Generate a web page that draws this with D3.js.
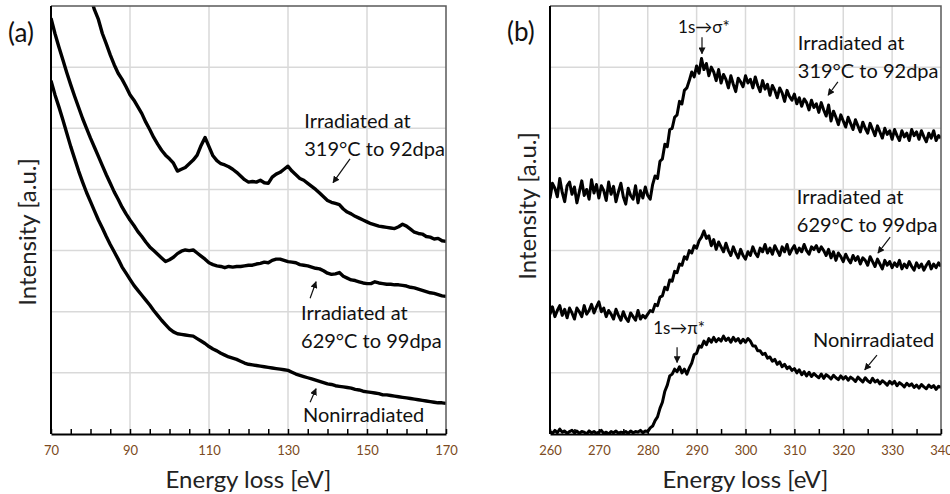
<!DOCTYPE html>
<html>
<head>
<meta charset="utf-8">
<script src="https://cdn.jsdelivr.net/npm/d3@7"></script>
<style>
  body { margin: 0; background: #fff; }
  svg { display: block; font-family: Lato, "Open Sans", sans-serif; }
</style>
</head>
<body>
<svg id="chart" width="950" height="494"></svg>
<script>
// ---- panel (a): 70-170 eV, 1 eV step ----
const aStart = 70, aStep = 1;
const a319 = [9.40,9.18,8.96,8.74,8.52,8.31,8.10,7.89,7.68,7.48,
  7.14,6.94,6.78,6.55,6.38,6.20,6.04,5.90,5.80,5.68,
  5.55,5.46,5.35,5.24,5.10,4.98,4.85,4.74,4.64,4.56,
  4.50,4.43,4.30,4.33,4.36,4.42,4.48,4.56,4.72,4.85,
  4.70,4.55,4.47,4.42,4.40,4.37,4.33,4.28,4.22,4.16,
  4.12,4.13,4.12,4.15,4.11,4.10,4.20,4.25,4.28,4.33,
  4.38,4.30,4.24,4.18,4.15,4.10,4.05,4.00,3.94,3.88,
  3.82,3.79,3.77,3.75,3.68,3.63,3.60,3.56,3.53,3.50,
  3.47,3.44,3.42,3.40,3.39,3.38,3.37,3.36,3.39,3.43,
  3.40,3.35,3.30,3.28,3.27,3.23,3.22,3.19,3.20,3.16,3.15];
const a629 = [6.80,6.55,6.33,6.12,5.91,5.71,5.52,5.34,5.16,5.00,
  4.84,4.69,4.54,4.39,4.24,4.10,3.96,3.84,3.71,3.60,
  3.50,3.41,3.31,3.23,3.14,3.06,3.00,2.94,2.88,2.82,
  2.85,2.89,2.95,2.99,3.01,3.00,3.01,2.96,2.91,2.86,
  2.80,2.77,2.75,2.74,2.72,2.74,2.73,2.74,2.74,2.75,
  2.76,2.76,2.78,2.79,2.81,2.80,2.84,2.86,2.86,2.84,
  2.82,2.81,2.80,2.77,2.76,2.75,2.73,2.71,2.70,2.67,
  2.63,2.61,2.62,2.64,2.58,2.55,2.52,2.51,2.49,2.47,
  2.46,2.46,2.49,2.47,2.46,2.45,2.45,2.44,2.44,2.43,
  2.42,2.40,2.39,2.37,2.35,2.33,2.31,2.30,2.28,2.26,2.25];
const aNon = [5.78,5.55,5.35,5.14,4.92,4.70,4.50,4.30,4.12,3.95,
  3.80,3.65,3.50,3.37,3.23,3.10,2.98,2.86,2.73,2.63,
  2.53,2.43,2.35,2.27,2.19,2.11,2.02,1.94,1.86,1.79,
  1.72,1.67,1.64,1.63,1.62,1.61,1.60,1.56,1.52,1.48,
  1.43,1.39,1.36,1.32,1.29,1.26,1.24,1.22,1.19,1.16,
  1.14,1.13,1.12,1.11,1.10,1.09,1.08,1.07,1.06,1.05,
  1.04,1.01,0.98,0.96,0.94,0.92,0.90,0.88,0.86,0.84,
  0.82,0.81,0.79,0.78,0.77,0.76,0.75,0.73,0.72,0.70,
  0.69,0.68,0.67,0.66,0.64,0.64,0.63,0.62,0.61,0.60,
  0.59,0.58,0.57,0.56,0.55,0.54,0.53,0.52,0.51,0.51,0.50];

// ---- panel (b): 260-340 eV, 0.5 eV step ----
const bStart = 260, bStep = 0.5;
const b319 = [3.85,4.10,4.02,3.88,4.18,3.95,3.80,4.06,4.12,3.92,
  4.04,3.78,3.96,4.14,3.90,4.00,3.84,4.16,3.94,4.08,
  3.86,4.06,3.98,3.82,4.12,3.92,4.05,3.80,3.96,4.10,
  3.88,3.76,4.02,3.90,3.84,4.06,3.78,3.98,3.86,4.04,
  3.90,3.84,4.08,4.22,4.18,4.46,4.50,4.74,4.70,4.98,
  5.00,5.18,5.22,5.44,5.40,5.62,5.66,5.78,5.92,5.84,
  6.02,5.90,6.14,5.96,6.06,5.86,6.00,5.92,5.78,5.96,
  5.74,5.88,5.80,5.66,5.86,5.72,5.60,5.82,5.76,5.68,
  5.86,5.74,5.80,5.66,5.84,5.70,5.60,5.78,5.64,5.72,
  5.54,5.70,5.62,5.50,5.66,5.58,5.44,5.62,5.52,5.46,
  5.56,5.40,5.50,5.36,5.48,5.42,5.30,5.46,5.34,5.40,
  5.26,5.42,5.30,5.20,5.38,5.12,5.28,5.18,5.06,5.22,
  5.12,5.02,5.18,5.08,4.98,5.14,5.04,4.94,5.10,5.00,
  4.92,5.08,4.98,4.88,5.04,4.94,4.84,5.00,4.90,4.96,
  4.82,4.98,4.88,4.80,4.96,4.86,4.92,4.80,4.98,4.88,
  4.94,4.82,4.96,4.86,4.78,4.92,4.84,4.96,4.80,4.88,4.84];
const b629 = [1.96,2.08,1.92,2.02,2.10,1.94,2.04,1.90,2.06,1.98,
  1.88,2.06,2.00,1.92,2.10,1.96,2.02,2.12,1.98,2.08,
  2.16,2.00,2.06,1.92,2.02,1.96,1.88,2.04,1.94,1.86,
  2.00,1.90,1.84,1.98,1.92,1.86,2.02,1.88,1.94,1.90,
  1.96,2.02,2.00,2.12,2.10,2.24,2.26,2.40,2.36,2.52,
  2.50,2.66,2.64,2.78,2.76,2.90,2.86,3.00,2.96,3.08,
  3.04,3.16,3.22,3.32,3.20,3.24,3.08,3.18,3.02,3.14,
  3.06,2.98,3.12,3.00,2.92,3.06,2.96,2.88,3.02,2.92,
  2.86,2.98,2.92,3.06,2.96,2.90,3.04,2.98,3.10,2.96,
  3.04,2.94,3.08,3.00,2.92,3.06,2.98,3.10,2.94,3.02,
  3.08,2.96,3.04,2.98,3.10,3.00,2.94,3.06,3.02,3.08,
  2.98,3.06,3.00,2.92,3.02,2.88,2.98,2.84,2.96,2.90,
  2.82,2.94,2.86,2.80,2.92,2.84,2.90,2.78,2.88,2.84,
  2.76,2.90,2.82,2.74,2.86,2.78,2.70,2.84,2.76,2.82,
  2.72,2.80,2.74,2.84,2.70,2.78,2.72,2.82,2.74,2.68,
  2.80,2.72,2.78,2.68,2.76,2.82,2.70,2.78,2.72,2.80,2.74];
const bNon = [0.04,0.01,0.06,0.02,0.08,0.03,0.05,0.01,0.04,0.06,
  0.02,0.05,0.01,0.04,0.03,0.00,0.05,0.02,0.04,0.01,
  0.03,0.06,0.01,0.03,0.00,0.04,0.02,0.05,0.01,0.03,
  0.02,0.04,0.01,0.05,0.02,0.04,0.03,0.06,0.02,0.05,
  0.04,0.10,0.13,0.22,0.28,0.42,0.52,0.70,0.80,0.95,
  0.98,1.06,1.02,1.10,1.00,1.06,0.98,1.08,1.16,1.30,
  1.32,1.44,1.42,1.52,1.46,1.56,1.50,1.58,1.51,1.56,
  1.52,1.60,1.53,1.57,1.50,1.58,1.52,1.56,1.49,1.55,
  1.50,1.56,1.52,1.44,1.44,1.36,1.36,1.30,1.32,1.24,
  1.26,1.19,1.22,1.14,1.18,1.10,1.14,1.07,1.10,1.04,
  1.07,1.00,1.05,0.97,1.02,0.95,1.01,0.94,0.99,0.95,
  0.92,0.98,0.91,0.97,0.94,0.90,0.96,0.92,0.89,0.95,
  0.90,0.94,0.88,0.93,0.90,0.86,0.93,0.89,0.85,0.92,
  0.87,0.84,0.91,0.85,0.88,0.82,0.87,0.84,0.80,0.86,
  0.82,0.86,0.79,0.84,0.81,0.77,0.83,0.79,0.82,0.76,
  0.80,0.75,0.81,0.77,0.74,0.80,0.76,0.79,0.73,0.78,0.76];

// tick values
const ticksA = [70, 90, 110, 130, 150, 170];
const ticksB = [260, 270, 280, 290, 300, 310, 320, 330, 340];
const gridY = [1, 2, 3, 4, 5, 6];

const svg = d3.select('#chart');
const plotTop = 6, plotBottom = 434;

const y = d3.scaleLinear().domain([0, 7]).range([plotBottom, plotTop]);

const panels = [
  {
    key: 'a', left: 51, right: 446, domain: [70, 170], ticks: ticksA, minorStep: 5,
    start: aStart, step: aStep, width: 3.4,
    series: [a319, a629, aNon],
    label: { text: '(a)', x: 8, y: 42 },
    ytitle: { x: 36, y: 232 },
    notes: [
      { lines: ['Irradiated at', '319°C to 92dpa'], x: 134.1, y: 5.0, size: 20, arrow: [145.7, 4.50, 141.4, 4.11] },
      { lines: ['Irradiated at', '629°C to 99dpa'], x: 133.3, y: 1.86, size: 20, arrow: [135.6, 2.22, 137.1, 2.49] },
      { lines: ['Nonirradiated'], x: 133.8, y: 0.20, size: 20, arrow: [135.6, 0.52, 137.1, 0.74] }
    ]
  },
  {
    key: 'b', left: 550, right: 941, domain: [260, 340], ticks: ticksB, minorStep: 5,
    start: bStart, step: bStep, width: 3,
    series: [b319, b629, bNon],
    label: { text: '(b)', x: 507, y: 41 },
    ytitle: { x: 536, y: 206 },
    notes: [
      { lines: ['1s→σ*'], x: 286.2, y: 6.56, size: 17, arrow: [291.1, 6.49, 291.1, 6.22] },
      { lines: ['Irradiated at', '319°C to 92dpa'], x: 310.7, y: 6.28, size: 20, arrow: [318.9, 5.76, 316.9, 5.54] },
      { lines: ['Irradiated at', '629°C to 99dpa'], x: 310.5, y: 3.76, size: 20, arrow: [329.6, 3.22, 327.1, 2.96] },
      { lines: ['1s→π*'], x: 281.1, y: 1.64, size: 17, arrow: [286.0, 1.42, 286.0, 1.17] },
      { lines: ['Nonirradiated'], x: 313.8, y: 1.42, size: 20, arrow: [326.9, 1.29, 324.4, 1.05] }
    ]
  }
];

// arrow head
const defs = svg.append('defs');
defs.append('marker')
  .attr('id', 'head')
  .attr('viewBox', '0 0 10 10')
  .attr('refX', 9).attr('refY', 5)
  .attr('markerWidth', 7).attr('markerHeight', 7)
  .attr('markerUnits', 'userSpaceOnUse')
  .attr('orient', 'auto')
  .append('path').attr('d', 'M0,0L10,5L0,10z').attr('fill', '#111');

panels.forEach(p => {
  const x = d3.scaleLinear().domain(p.domain).range([p.left, p.right]);
  const g = svg.append('g');

  defs.append('clipPath').attr('id', 'clip-' + p.key)
    .append('rect').attr('x', p.left).attr('y', plotTop)
    .attr('width', p.right - p.left).attr('height', plotBottom - plotTop);

  // grid
  g.selectAll('.vg').data(p.ticks.slice(1, -1)).enter().append('line')
    .attr('x1', d => x(d)).attr('x2', d => x(d))
    .attr('y1', plotTop).attr('y2', plotBottom)
    .attr('stroke', '#d9d9d9').attr('stroke-width', 1.5);
  g.selectAll('.hg').data(gridY).enter().append('line')
    .attr('x1', p.left).attr('x2', p.right)
    .attr('y1', d => y(d)).attr('y2', d => y(d))
    .attr('stroke', '#d9d9d9').attr('stroke-width', 1.5);

  // spectra
  const line = d3.line()
    .x((d, i) => x(p.start + i * p.step))
    .y(d => y(d));
  g.append('g').attr('clip-path', `url(#clip-${p.key})`)
    .selectAll('path').data(p.series).enter().append('path')
    .attr('d', line)
    .attr('fill', 'none')
    .attr('stroke', '#000')
    .attr('stroke-width', p.width)
    .attr('stroke-linejoin', 'round');

  // frame: top and right grey
  g.append('path')
    .attr('d', `M${p.left},${plotTop}H${p.right}V${plotBottom}`)
    .attr('fill', 'none').attr('stroke', '#595959').attr('stroke-width', 1.5);
  // left axis
  g.append('line')
    .attr('x1', p.left).attr('x2', p.left).attr('y1', plotTop).attr('y2', plotBottom)
    .attr('stroke', '#000').attr('stroke-width', 2);

  // bottom axis, minor ticks pointing up
  const minor = d3.range(p.domain[0], p.domain[1] + 0.01, p.minorStep);
  const ax = g.append('g').attr('transform', `translate(0,${plotBottom})`)
    .call(d3.axisBottom(x).tickValues(minor).tickSizeInner(-5).tickSizeOuter(0).tickFormat(''));
  ax.select('.domain').attr('stroke', '#000').attr('stroke-width', 2);
  ax.selectAll('.tick line').attr('stroke', '#000').attr('stroke-width', 1.5);

  const lab = g.append('g').attr('transform', `translate(0,${plotBottom})`)
    .call(d3.axisBottom(x).tickValues(p.ticks).tickSize(0).tickPadding(12));
  lab.select('.domain').remove();
  lab.selectAll('text')
    .attr('font-family', 'Lato, sans-serif')
    .attr('font-size', 13)
    .attr('fill', '#7b4a21');

  // axis titles
  g.append('text')
    .attr('x', (p.left + p.right) / 2).attr('y', 488)
    .attr('text-anchor', 'middle')
    .attr('font-size', 24).attr('fill', '#222')
    .text('Energy loss [eV]');
  g.append('text')
    .attr('transform', `translate(${p.ytitle.x},${p.ytitle.y}) rotate(-90)`)
    .attr('text-anchor', 'middle')
    .attr('font-size', 24).attr('fill', '#222')
    .text('Intensity [a.u.]');

  // panel label
  g.append('text')
    .attr('x', p.label.x).attr('y', p.label.y)
    .attr('font-size', 26).attr('fill', '#111')
    .text(p.label.text);

  // annotations
  p.notes.forEach(n => {
    const t = g.append('text')
      .attr('x', x(n.x)).attr('y', y(n.y))
      .attr('font-size', n.size).attr('fill', '#111');
    n.lines.forEach((s, i) => {
      t.append('tspan').attr('x', x(n.x)).attr('dy', i ? 28 : 0).text(s);
    });
    g.append('line')
      .attr('x1', x(n.arrow[0])).attr('y1', y(n.arrow[1]))
      .attr('x2', x(n.arrow[2])).attr('y2', y(n.arrow[3]))
      .attr('stroke', '#111').attr('stroke-width', 1.2)
      .attr('marker-end', 'url(#head)');
  });
});
</script>
</body>
</html>
